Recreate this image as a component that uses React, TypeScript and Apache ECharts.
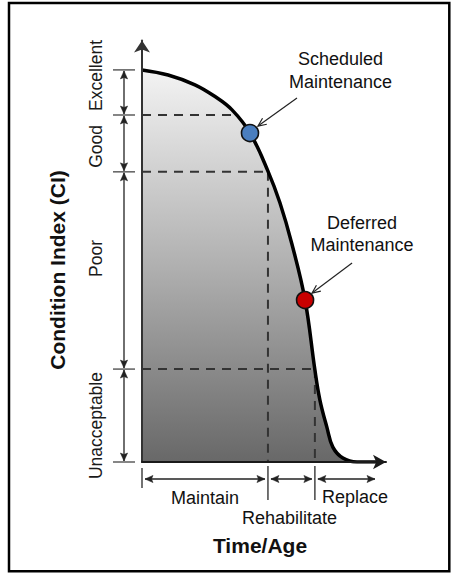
import React, { useEffect, useRef } from 'react';
import * as echarts from 'echarts';

// ---- data ----
const timeValues = [0, 10.9, 22.1, 30.5, 37.6, 45.1, 52.6, 57.6, 62.6, 68.1, 72.2, 74.3, 77.2, 79.7, 83.9, 89.8, 98.5];
const ciValues = [100, 98.7, 96.2, 93.2, 89.8, 83.9, 74.2, 66.1, 55.6, 41.3, 23.5, 15.8, 8.9, 3.8, 1.0, 0, 0];
const ciBands = ['Excellent', 'Good', 'Poor', 'Unacceptable'];
const bandBounds = [100, 88.5, 74, 23.7, 0];
const thresholdTimes = [38.8, 52.6, 72.2];
const phaseLabels = ['Maintain', 'Rehabilitate', 'Replace'];
const phaseBounds = [0, 52.6, 72.2, 97.3];
const scheduledPoint = [45.1, 83.9];
const deferredPoint = [68.1, 41.3];
const scheduledLabel = ['Scheduled', 'Maintenance'];
const deferredLabel = ['Deferred', 'Maintenance'];
const yTitle = 'Condition Index (CI)';
const xTitle = 'Time/Age';

const FONT = '"Liberation Sans", Arial, sans-serif';

export default function App() {
  const ref = useRef<HTMLDivElement>(null);
  useEffect(() => {
    document.body.style.margin = '0';
    const chart = echarts.init(ref.current!, undefined, { renderer: 'svg' });
    const curve = timeValues.map((t, i) => [t, ciValues[i]]);
    const dashStyle = { type: [9, 7] as any, color: '#333', width: 2 };
    const dashed: any[] = [];
    thresholdTimes.forEach((t, i) => {
      dashed.push({
        type: 'line', symbol: 'none', silent: true, z: 3,
        data: [[0, bandBounds[i + 1]], [t, bandBounds[i + 1]]],
        lineStyle: dashStyle,
      });
    });
    [1, 2].forEach((i) => {
      dashed.push({
        type: 'line', symbol: 'none', silent: true, z: 3,
        data: [[thresholdTimes[i], bandBounds[i + 1]], [thresholdTimes[i], 0]],
        lineStyle: dashStyle,
      });
    });

    chart.setOption({
      animation: false,
      backgroundColor: '#fff',
      grid: { left: 142, right: 70, top: 40.5, bottom: 111, containLabel: false },
      xAxis: {
        type: 'value', min: 0, max: 101.9, z: 10,
        axisLine: { show: true, symbol: ['none', 'arrow'], symbolSize: [11, 13], lineStyle: { color: '#1a1a1a', width: 2 } },
        axisTick: { show: false }, axisLabel: { show: false }, splitLine: { show: false },
      },
      yAxis: {
        type: 'value', min: 0, max: 107.5, z: 10,
        axisLine: { show: true, symbol: ['none', 'arrow'], symbolSize: [12, 12], lineStyle: { color: '#333', width: 2 } },
        axisTick: { show: false }, axisLabel: { show: false }, splitLine: { show: false },
      },
      series: [
        {
          type: 'line', data: curve, smooth: 0.4, symbol: 'none', z: 1, silent: true,
          lineStyle: { width: 0 },
          areaStyle: {
            opacity: 1,
            color: new echarts.graphic.LinearGradient(0, 0, 0, 1, [
              { offset: 0, color: '#f3f3f3' },
              { offset: 0.5, color: '#b0b0b0' },
              { offset: 1, color: '#686868' },
            ]),
          },
        },
        ...dashed,
        {
          type: 'line', data: curve, smooth: 0.4, symbol: 'none', z: 4, silent: true,
          lineStyle: { color: '#000', width: 3.5 },
        },
        {
          type: 'scatter', data: [scheduledPoint], symbolSize: 17, z: 5, silent: true,
          itemStyle: { color: '#4a7ebf', borderColor: '#111', borderWidth: 1.6, opacity: 1 },
        },
        {
          type: 'scatter', data: [deferredPoint], symbolSize: 17, z: 5, silent: true,
          itemStyle: { color: '#c80000', borderColor: '#111', borderWidth: 1.6, opacity: 1 },
        },
      ],
    });

    const P = (x: number, y: number) => chart.convertToPixel({ xAxisIndex: 0, yAxisIndex: 0 }, [x, y]) as number[];
    const g: any[] = [];
    const ink = '#222';
    const line = (x1: number, y1: number, x2: number, y2: number, w = 1.3, c = '#333') =>
      g.push({ type: 'line', shape: { x1, y1, x2, y2 }, style: { stroke: c, lineWidth: w }, z: 20 });
    const head = (tx: number, ty: number, dx: number, dy: number) => {
      const L = 8, W = 3.6, N = 6.5;
      const px = -dy, py = dx;
      g.push({
        type: 'polygon', z: 21,
        shape: { points: [[tx, ty], [tx - dx * L + px * W, ty - dy * L + py * W], [tx - dx * N, ty - dy * N], [tx - dx * L - px * W, ty - dy * L - py * W]] },
        style: { fill: ink, stroke: ink, lineWidth: 0.5 },
      });
    };
    const dbl = (x1: number, y1: number, x2: number, y2: number) => {
      line(x1, y1, x2, y2, 1.3, ink);
      const len = Math.hypot(x2 - x1, y2 - y1);
      const dx = (x2 - x1) / len, dy = (y2 - y1) / len;
      head(x2, y2, dx, dy);
      head(x1, y1, -dx, -dy);
    };
    const text = (t: string, x: number, y: number, size: number, bold = false, rot = 0, color = '#111') =>
      g.push({
        type: 'text', x, y, rotation: rot, z: 22,
        style: { text: t, x: 0, y: 0, fill: color, font: `${bold ? 'bold ' : ''}${size}px ${FONT}`, align: 'center', verticalAlign: 'middle' },
      });

    // outer border
    g.push({ type: 'rect', shape: { x: 9, y: 3, width: 440.3, height: 568.3 }, style: { fill: 'none', stroke: '#000', lineWidth: 2.5 }, z: 30 });

    // left band markers
    const bandLabelShift = [-17, 3, -12, 10];
    const ys = bandBounds.map((b) => P(0, b)[1]);
    ys.forEach((y) => line(113, y, 135, y, 1.3, '#444'));
    ciBands.forEach((name, i) => {
      dbl(124, ys[i] + 1, 124, ys[i + 1] - 1);
      text(name, 96, (ys[i] + ys[i + 1]) / 2 + bandLabelShift[i], 17.5, false, Math.PI / 2, '#1a1a1a');
    });
    text(yTitle, 57.5, 270, 21, true, Math.PI / 2, '#111');

    // bottom phase markers
    const xs = phaseBounds.map((t) => P(t, 0)[0]);
    const base = P(0, 0)[1];
    line(xs[0], base + 6, xs[0], base + 26, 1.5, '#444');
    line(xs[1], base + 4, xs[1], base + 38, 1.5, '#444');
    line(xs[2], base + 4, xs[2], base + 38, 1.5, '#444');
    const ay = base + 17;
    dbl(xs[0] + 3, ay, xs[1] - 3, ay);
    dbl(xs[1] + 3, ay, xs[2] - 3, ay);
    dbl(xs[2] + 3, ay, xs[3], ay);
    const phaseShift = [0, -2, 10];
    const phaseY = [base + 35.5, base + 56, base + 35];
    phaseLabels.forEach((name, i) => text(name, (xs[i] + xs[i + 1]) / 2 + phaseShift[i], phaseY[i], 18));
    text(xTitle, 260, base + 83.5, 21, true);

    // callouts
    const callout = (pt: number[], lbl: string[], tail: number[], hd: number[], tpos: number[]) => {
      const d = P(pt[0], pt[1]);
      const tx = d[0] + tail[0], ty = d[1] + tail[1];
      const hx = d[0] + hd[0], hy = d[1] + hd[1];
      line(tx, ty, hx, hy, 1.2, ink);
      const len = Math.hypot(hx - tx, hy - ty);
      const dx = (hx - tx) / len, dy = (hy - ty) / len;
      const a = 0.42, L = 9;
      const w1 = [hx - L * (dx * Math.cos(a) - dy * Math.sin(a)), hy - L * (dy * Math.cos(a) + dx * Math.sin(a))];
      const w2 = [hx - L * (dx * Math.cos(-a) - dy * Math.sin(-a)), hy - L * (dy * Math.cos(-a) + dx * Math.sin(-a))];
      g.push({ type: 'polyline', z: 21, shape: { points: [w1, [hx, hy], w2] }, style: { stroke: ink, lineWidth: 1.2, fill: 'none' } });
      text(lbl[0], d[0] + tpos[0], d[1] + tpos[1], 18);
      text(lbl[1], d[0] + tpos[0], d[1] + tpos[1] + 22.5, 18);
    };
    callout(scheduledPoint, scheduledLabel, [47, -35], [8, -7], [90.5, -74]);
    callout(deferredPoint, deferredLabel, [47, -37], [7, -7], [57, -77.5]);

    chart.setOption({ graphic: g });
    return () => chart.dispose();
  }, []);
  return <div ref={ref} style={{ width: 456, height: 573 }} />;
}
